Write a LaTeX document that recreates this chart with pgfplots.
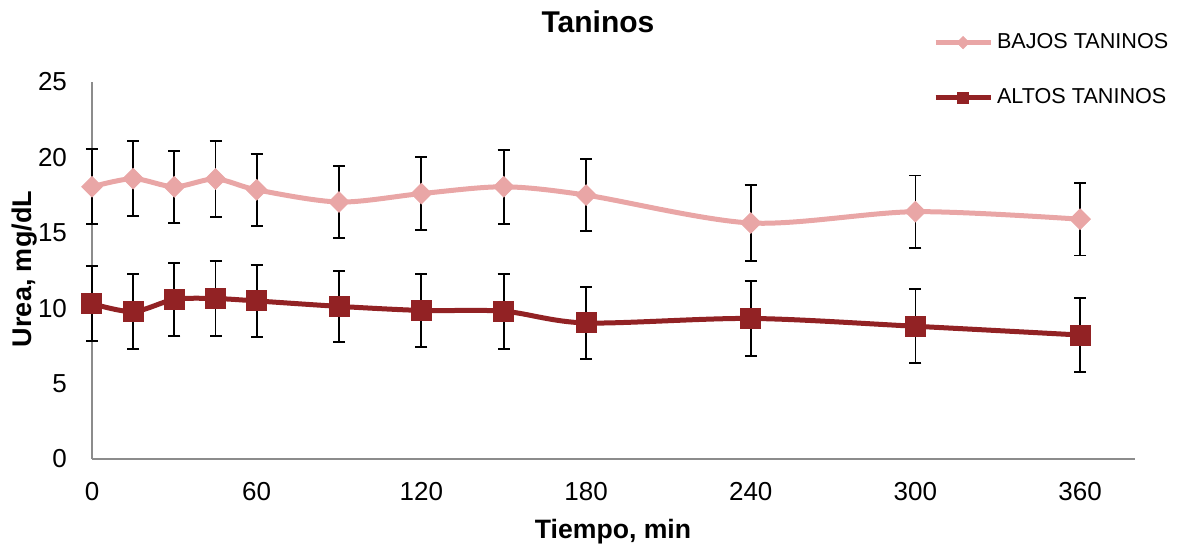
\documentclass[border=0pt]{standalone}
\usepackage{pgfplots}
\pgfplotsset{compat=1.18}
\usepackage{pgfplotstable}
\usepackage{fontspec}
\setmainfont{Liberation Sans}
\definecolor{pinkline}{RGB}{233,166,166}
\definecolor{darkred}{RGB}{146,34,36}
\definecolor{axisgray}{RGB}{140,140,140}
\pgfplotstableread{
x y e
0 18.05 2.49
15 18.59 2.50
30 18.05 2.40
45 18.57 2.50
60 17.85 2.40
90 17.04 2.40
120 17.60 2.42
150 18.05 2.45
180 17.50 2.40
240 15.65 2.50
300 16.40 2.40
360 15.90 2.40
}\bajos
\pgfplotstableread{
x y e
0 10.30 2.50
15 9.77 2.50
30 10.58 2.40
45 10.64 2.48
60 10.48 2.40
90 10.12 2.37
120 9.85 2.42
150 9.80 2.48
180 9.02 2.40
240 9.32 2.48
300 8.80 2.45
360 8.22 2.45
}\altos
\begin{document}
\begin{tikzpicture}
\path (-46pt,-44.5pt) rectangle (543.5pt,229.5pt);
\begin{axis}[
  name=ax, at={(0,0)}, anchor=south west,
  scale only axis, width=521.5pt, height=188.5pt,
  xmin=0, xmax=380, ymin=0, ymax=25,
  xtick={0,60,...,360}, ytick={0,5,...,25},
  axis x line=bottom, axis y line=left,
  axis line style={draw=axisgray, line width=0.9pt, -},
  major tick length=0pt,
  tick label style={font=\fontsize{13}{15}\selectfont},
  /pgf/number format/assume math mode=true,
  yticklabel style={xshift=-9pt},
  xticklabel style={yshift=-8pt},
  clip=false,
  legend style={at={(axis description cs:0.806,1.14)}, anchor=north west,
    draw=none, fill=none, font=\fontsize{10.8}{12}\selectfont,
    row sep=14.5pt, inner sep=0pt, cells={anchor=west}},
  legend image code/.code={\draw[#1] plot coordinates {(0pt,0pt) (13.75pt,0pt) (27.5pt,0pt)};},
]
\addplot+[forget plot, smooth, color=pinkline, line width=2.5pt,
  mark=square*, mark size=3.6pt, mark options={rotate=45, fill=pinkline, draw=pinkline, line width=0.5pt},
  error bars/.cd, y dir=both, y explicit,
  error bar style={black, line width=0.9pt},
  error mark options={rotate=90, black, mark size=3pt, line width=0.9pt}]
  table[x=x, y=y, y error=e] {\bajos};
\addplot+[forget plot, smooth, color=darkred, line width=2.5pt,
  mark=square*, mark size=5pt, mark options={fill=darkred, draw=darkred, line width=0.5pt},
  error bars/.cd, y dir=both, y explicit,
  error bar style={black, line width=0.9pt},
  error mark options={rotate=90, black, mark size=3pt, line width=0.9pt}]
  table[x=x, y=y, y error=e] {\altos};
\addlegendimage{color=pinkline, line width=2.5pt, mark=square*, mark size=2.2pt, mark options={rotate=45, line width=0.3pt}, mark repeat=2, mark phase=2}
\addlegendentry{BAJOS TANINOS}
\addlegendimage{color=darkred, line width=2.5pt, mark=square*, mark size=2.8pt, mark options={line width=0.3pt}, mark repeat=2, mark phase=2}
\addlegendentry{ALTOS TANINOS}
\end{axis}
\node[font=\bfseries\fontsize{15}{18}\selectfont] at (253pt,218.5pt) {Taninos};
\node[font=\bfseries\fontsize{13.3}{16}\selectfont] at (260.5pt,-36.5pt) {Tiempo, min};
\node[font=\bfseries\fontsize{13.5}{16}\selectfont, rotate=90] at (-33.5pt,95pt) {Urea, mg/dL};
\end{tikzpicture}
\end{document}
